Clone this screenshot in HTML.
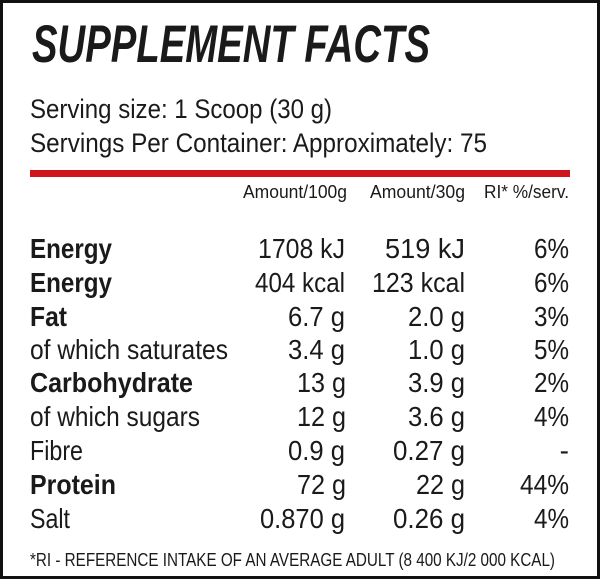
<!DOCTYPE html>
<html><head><style>html,body{margin:0;padding:0;background:#fff}svg{display:block}</style></head><body>
<svg width="600" height="579" viewBox="0 0 600 579" xmlns="http://www.w3.org/2000/svg" font-family="Liberation Sans, sans-serif" fill="#1a1a1a">
<rect x="1.5" y="1.5" width="597" height="576" fill="#fff" stroke="#111" stroke-width="3"/>
<text x="32" y="62" font-size="53" font-weight="bold" font-style="italic" textLength="398" lengthAdjust="spacingAndGlyphs">SUPPLEMENT FACTS</text>
<text x="30" y="118" font-size="27" textLength="302" lengthAdjust="spacingAndGlyphs">Serving size: 1 Scoop (30 g)</text>
<text x="30" y="152" font-size="27" textLength="457" lengthAdjust="spacingAndGlyphs">Servings Per Container: Approximately: 75</text>
<rect x="30" y="170" width="540" height="7" fill="#d0141c"/>
<g font-size="18" text-anchor="end">
<text x="347" y="198" textLength="104" lengthAdjust="spacingAndGlyphs">Amount/100g</text>
<text x="465" y="198" textLength="95" lengthAdjust="spacingAndGlyphs">Amount/30g</text>
<text x="569" y="198" textLength="85" lengthAdjust="spacingAndGlyphs">RI* %/serv.</text>
</g>
<g font-size="28">
<text x="30" y="258" font-weight="bold" textLength="82" lengthAdjust="spacingAndGlyphs">Energy</text>
<text x="30" y="292" font-weight="bold" textLength="82" lengthAdjust="spacingAndGlyphs">Energy</text>
<text x="30" y="326" font-weight="bold" textLength="37" lengthAdjust="spacingAndGlyphs">Fat</text>
<text x="30" y="359" textLength="198" lengthAdjust="spacingAndGlyphs">of which saturates</text>
<text x="30" y="392" font-weight="bold" textLength="163" lengthAdjust="spacingAndGlyphs">Carbohydrate</text>
<text x="30" y="426" textLength="170" lengthAdjust="spacingAndGlyphs">of which sugars</text>
<text x="30" y="460" textLength="53" lengthAdjust="spacingAndGlyphs">Fibre</text>
<text x="30" y="494" font-weight="bold" textLength="86" lengthAdjust="spacingAndGlyphs">Protein</text>
<text x="30" y="528" textLength="40" lengthAdjust="spacingAndGlyphs">Salt</text>
</g>
<g font-size="28" text-anchor="end">
<text x="345" y="258" textLength="87" lengthAdjust="spacingAndGlyphs">1708 kJ</text>
<text x="465" y="258" textLength="80" lengthAdjust="spacingAndGlyphs">519 kJ</text>
<text x="569" y="258" textLength="35" lengthAdjust="spacingAndGlyphs">6%</text>
<text x="345" y="292" textLength="90" lengthAdjust="spacingAndGlyphs">404 kcal</text>
<text x="465" y="292" textLength="93" lengthAdjust="spacingAndGlyphs">123 kcal</text>
<text x="569" y="292" textLength="35" lengthAdjust="spacingAndGlyphs">6%</text>
<text x="345" y="326" textLength="57" lengthAdjust="spacingAndGlyphs">6.7 g</text>
<text x="465" y="326" textLength="57" lengthAdjust="spacingAndGlyphs">2.0 g</text>
<text x="569" y="326" textLength="35" lengthAdjust="spacingAndGlyphs">3%</text>
<text x="345" y="359" textLength="57" lengthAdjust="spacingAndGlyphs">3.4 g</text>
<text x="465" y="359" textLength="57" lengthAdjust="spacingAndGlyphs">1.0 g</text>
<text x="569" y="359" textLength="35" lengthAdjust="spacingAndGlyphs">5%</text>
<text x="346" y="392" textLength="49" lengthAdjust="spacingAndGlyphs">13 g</text>
<text x="465" y="392" textLength="57" lengthAdjust="spacingAndGlyphs">3.9 g</text>
<text x="569" y="392" textLength="35" lengthAdjust="spacingAndGlyphs">2%</text>
<text x="346" y="426" textLength="49" lengthAdjust="spacingAndGlyphs">12 g</text>
<text x="465" y="426" textLength="57" lengthAdjust="spacingAndGlyphs">3.6 g</text>
<text x="569" y="426" textLength="35" lengthAdjust="spacingAndGlyphs">4%</text>
<text x="345" y="460" textLength="57" lengthAdjust="spacingAndGlyphs">0.9 g</text>
<text x="465" y="460" textLength="72" lengthAdjust="spacingAndGlyphs">0.27 g</text>
<text x="569" y="460">-</text>
<text x="346" y="494" textLength="49" lengthAdjust="spacingAndGlyphs">72 g</text>
<text x="465" y="494" textLength="49" lengthAdjust="spacingAndGlyphs">22 g</text>
<text x="569" y="494" textLength="49" lengthAdjust="spacingAndGlyphs">44%</text>
<text x="345" y="528" textLength="85" lengthAdjust="spacingAndGlyphs">0.870 g</text>
<text x="465" y="528" textLength="72" lengthAdjust="spacingAndGlyphs">0.26 g</text>
<text x="569" y="528" textLength="35" lengthAdjust="spacingAndGlyphs">4%</text>
</g>
<text x="30" y="566" font-size="18" textLength="525" lengthAdjust="spacingAndGlyphs">*RI - REFERENCE INTAKE OF AN AVERAGE ADULT (8 400 KJ/2 000 KCAL)</text>
</svg>
</body></html>
